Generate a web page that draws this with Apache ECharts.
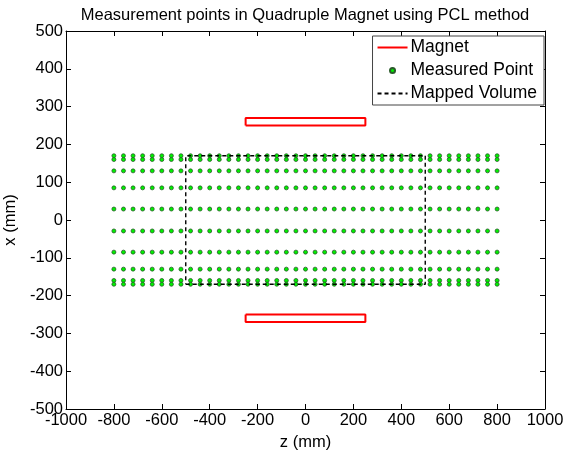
<!DOCTYPE html>
<html><head><meta charset="utf-8">
<script src="https://cdn.jsdelivr.net/npm/echarts@6/dist/echarts.min.js"></script>
<style>html,body{margin:0;padding:0;background:#fff}#c{width:565px;height:453px}</style>
</head><body><div id="c"></div>
<script>
var title = 'Measurement points in Quadruple Magnet using PCL method';
var zTicks = [-1000,-800,-600,-400,-200,0,200,400,600,800,1000];
var xTicks = [500,400,300,200,100,0,-100,-200,-300,-400,-500];
var pointZ = [-800,-760,-720,-680,-640,-600,-560,-520,-480,-440,-400,-360,-320,-280,-240,-200,-160,-120,-80,-40,0,40,80,120,160,200,240,280,320,360,400,440,480,520,560,600,640,680,720,760,800];
var pointX = [170,160,130,85,29,-29,-85,-130,-160,-170];
var magnetTop = [[-250,250],[250,250],[250,270],[-250,270],[-250,250]];
var magnetBottom = [[-250,-250],[250,-250],[250,-270],[-250,-270],[-250,-250]];
var mappedVolume = [[-500,-170],[500,-170],[500,170],[-500,170],[-500,-170]];

var pts = [];
pointZ.forEach(function(z){ pointX.forEach(function(x){ pts.push([z,x]); }); });

var font = 'Arial, "Liberation Sans", sans-serif';
var fs = 16.5;
var chart = echarts.init(document.getElementById('c'));
function axisBase(extra){
  return Object.assign({
    type:'value',
    axisLine:{show:true,onZero:false,lineStyle:{color:'#000',width:1}},
    axisTick:{show:true,inside:true,length:5,lineStyle:{color:'#000'}},
    splitLine:{show:false}
  }, extra);
}
function fmt(v){ return String(v); }
chart.setOption({
  animation:false,
  backgroundColor:'#fff',
  title:{text:title,left:300,top:2,textAlign:'center',textStyle:{fontSize:fs,fontWeight:'normal',color:'#000',fontFamily:font}},
  grid:{left:66,right:20,top:31,bottom:44,containLabel:false,outerBoundsMode:'none'},
  legend:{
    orient:'vertical',right:21,top:36,
    data:[
      {name:'Magnet',itemStyle:{opacity:0}},
      {name:'Measured Point'},
      {name:'Mapped Volume',itemStyle:{opacity:0}}
    ],
    backgroundColor:'#fff',borderColor:'#444',borderWidth:1,borderRadius:0,
    padding:[2,7,2,4],itemGap:4,itemWidth:30,itemHeight:5,
    textStyle:{fontSize:17.5,color:'#000',fontFamily:font,padding:[0,0,0,-2],lineHeight:19}
  },
  xAxis:[
    axisBase({min:-1000,max:1000,interval:200,position:'bottom',
      name:'z (mm)',nameLocation:'middle',nameGap:22,nameTextStyle:{fontSize:fs,color:'#000',fontFamily:font},
      axisLabel:{color:'#000',fontSize:fs,fontFamily:font,margin:3,formatter:fmt}}),
    axisBase({min:-1000,max:1000,interval:200,position:'top',axisLabel:{show:false}})
  ],
  yAxis:[
    axisBase({min:-500,max:500,interval:100,position:'left',
      name:'x (mm)',nameLocation:'middle',nameGap:44,nameTextStyle:{fontSize:fs,color:'#000',fontFamily:font},
      axisLabel:{color:'#000',fontSize:fs,fontFamily:font,margin:3,formatter:fmt}}),
    axisBase({min:-500,max:500,interval:100,position:'right',axisLabel:{show:false}})
  ],
  series:[
    {name:'Magnet',type:'line',data:magnetTop,symbol:'none',lineStyle:{color:'#ff0000',width:2},itemStyle:{color:'#ff0000'},z:3},
    {name:'Magnet',type:'line',data:magnetBottom,symbol:'none',lineStyle:{color:'#ff0000',width:2},itemStyle:{color:'#ff0000'},z:3},
    {name:'Measured Point',type:'scatter',data:pts,symbol:'circle',symbolSize:4,
      itemStyle:{color:'#00f000',borderColor:'#2a5a2a',borderWidth:0.8,opacity:1},z:2},
    {name:'Mapped Volume',type:'line',data:mappedVolume,symbol:'none',
      lineStyle:{color:'#000',width:1.4,type:[4,3]},itemStyle:{color:'#000'},z:4}
  ]
});
</script></body></html>
